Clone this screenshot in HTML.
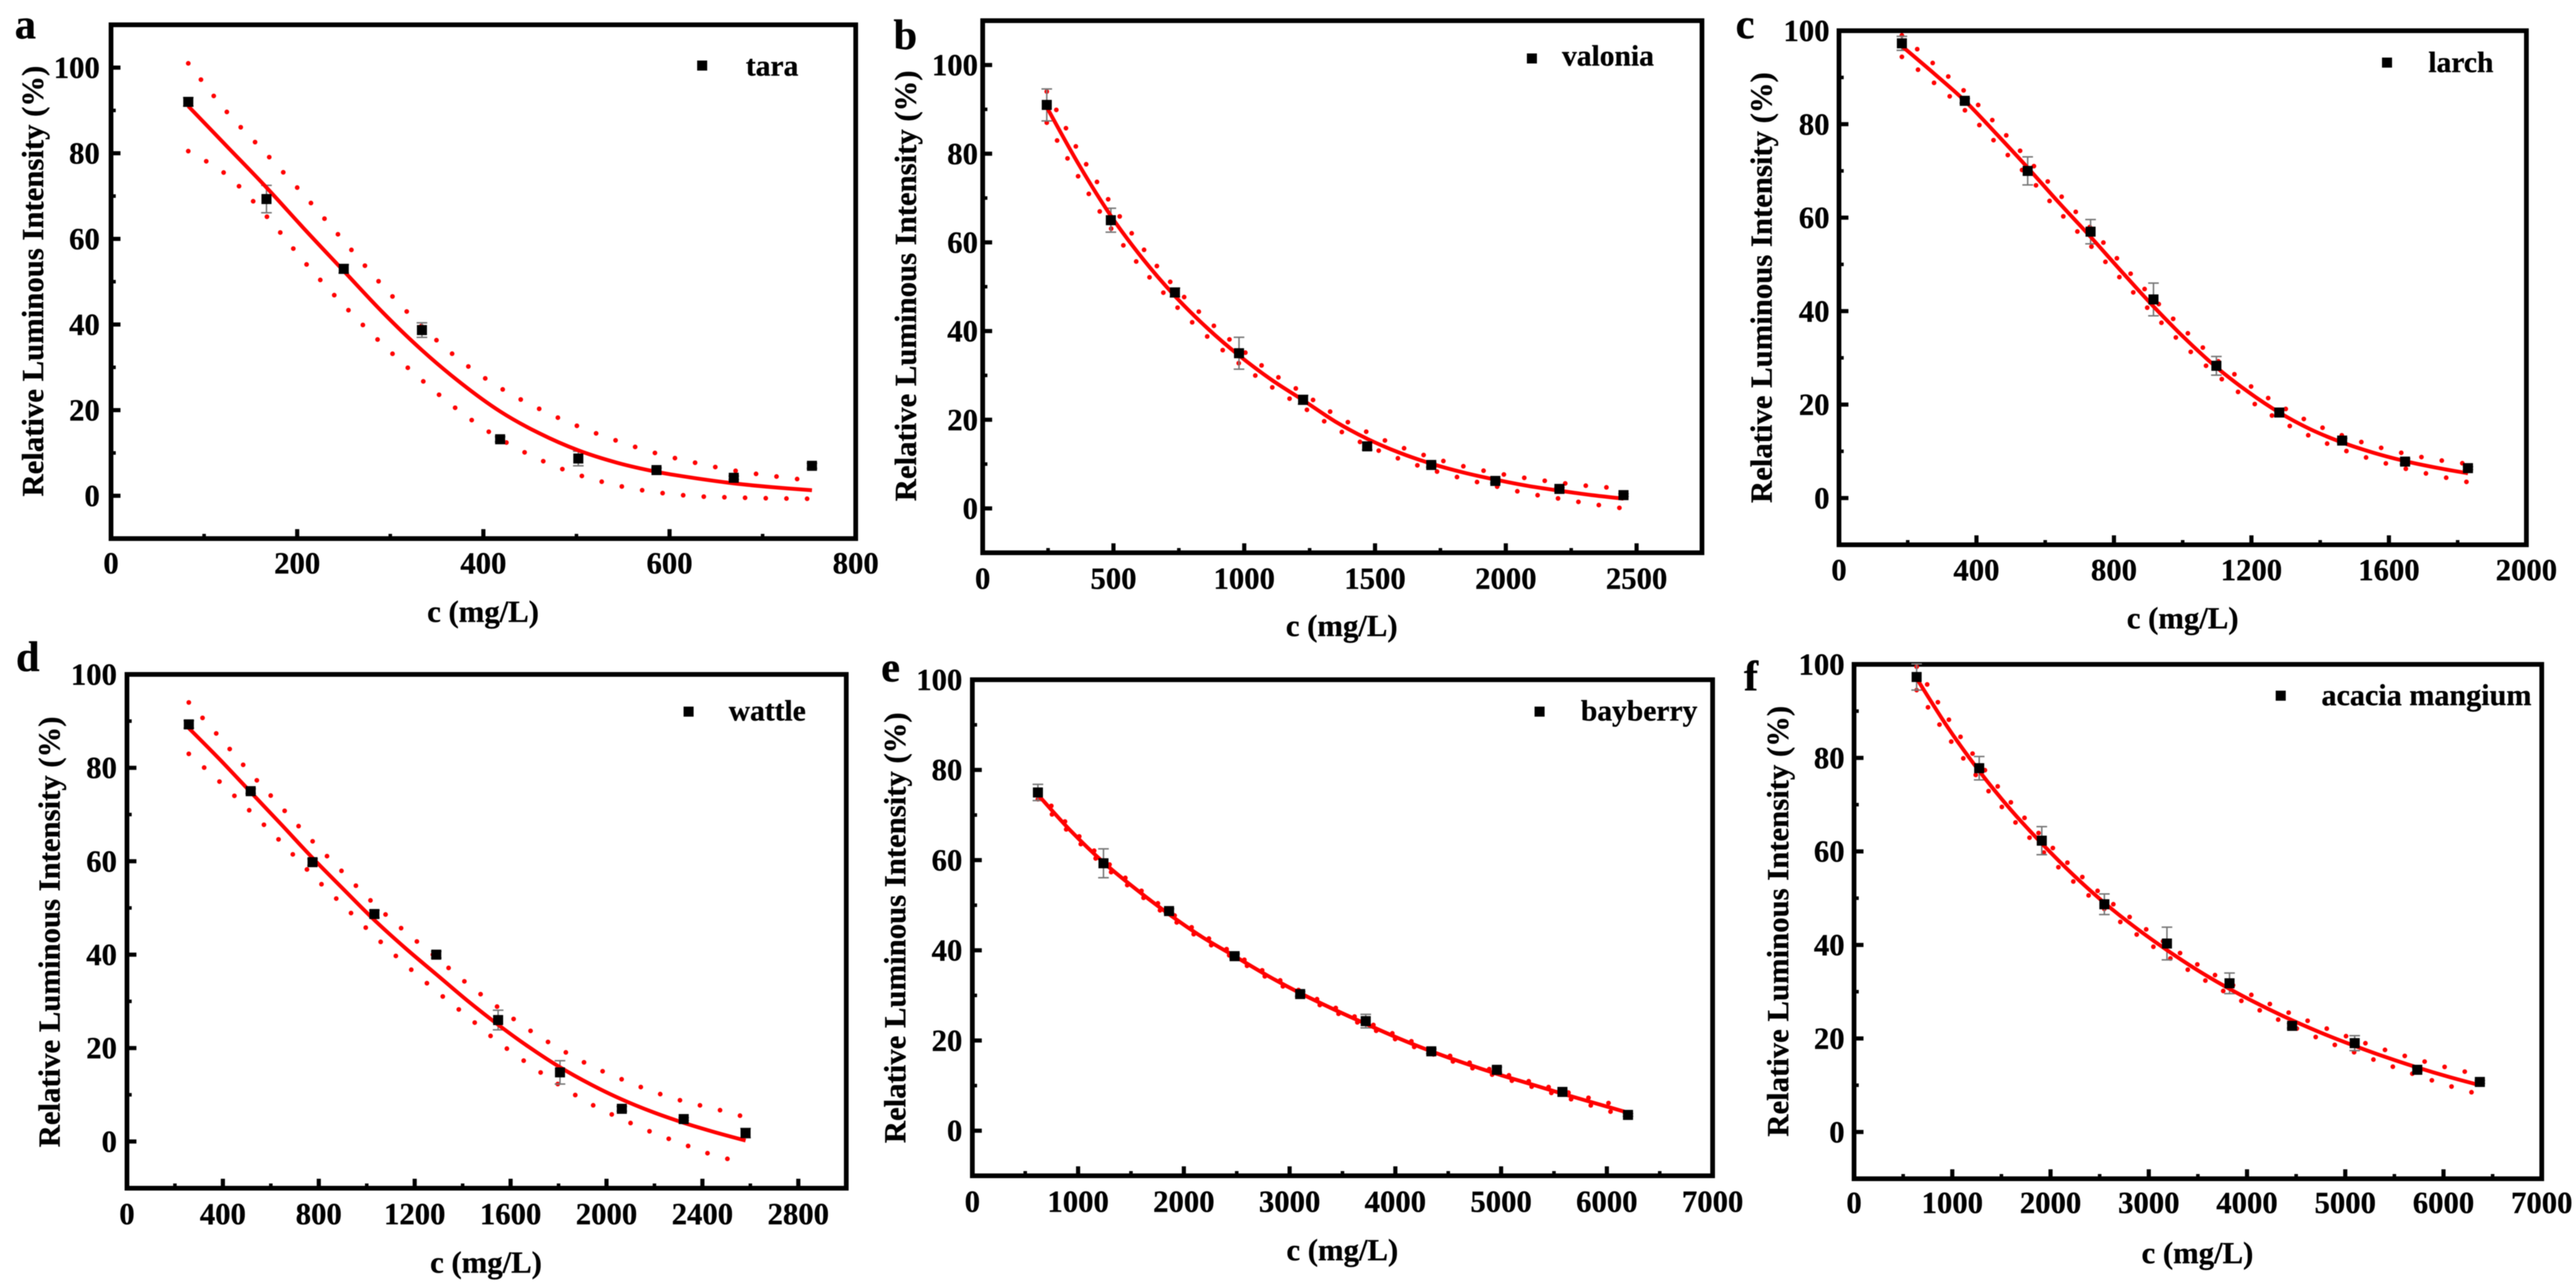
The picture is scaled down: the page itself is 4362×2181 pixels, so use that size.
<!DOCTYPE html>
<html lang="en">
<head>
<meta charset="utf-8">
<title>Relative luminous intensity versus concentration</title>
<style>
html,body{margin:0;padding:0;background:#fff;}
svg{display:block;filter:blur(0.7px);}
text{font-family:"Liberation Serif",serif;font-weight:bold;fill:#000;stroke:#000;stroke-width:0.5px;}
.tick{font-size:52px;}
.title{font-size:52px;}
.legend{font-size:50px;}
.letter{font-size:72px;}
</style>
</head>
<body>
<svg id="figure" xmlns="http://www.w3.org/2000/svg" width="4362" height="2181" viewBox="0 0 4362 2181">
  <rect x="0" y="0" width="4362" height="2181" fill="#fff"/>

  <g id="panel-a">
    <text class="letter" x="25" y="65">a</text>
    <text class="title" x="818" y="1053" text-anchor="middle">c (mg/L)</text>
    <text class="title" transform="translate(73 476) rotate(-90)" text-anchor="middle">Relative Luminous Intensity (%)</text>
    <rect x="1180.5" y="102.5" width="17" height="17" fill="#000"/>
    <text class="legend" x="1263" y="128">tara</text>
  </g>
  <g id="panel-b">
    <text class="letter" x="1513" y="83">b</text>
    <text class="title" x="2272" y="1077" text-anchor="middle">c (mg/L)</text>
    <text class="title" transform="translate(1551 484) rotate(-90)" text-anchor="middle">Relative Luminous Intensity (%)</text>
    <rect x="2585.5" y="90.5" width="17" height="17" fill="#000"/>
    <text class="legend" x="2645" y="111">valonia</text>
  </g>
  <g id="panel-c">
    <text class="letter" x="2939" y="65">c</text>
    <text class="title" x="3696" y="1064" text-anchor="middle">c (mg/L)</text>
    <text class="title" transform="translate(3000 487) rotate(-90)" text-anchor="middle">Relative Luminous Intensity (%)</text>
    <rect x="4033.5" y="97.5" width="17" height="17" fill="#000"/>
    <text class="legend" x="4112" y="122">larch</text>
  </g>
  <g id="panel-d">
    <text class="letter" x="27" y="1136">d</text>
    <text class="title" x="823" y="2155" text-anchor="middle">c (mg/L)</text>
    <text class="title" transform="translate(101 1578) rotate(-90)" text-anchor="middle">Relative Luminous Intensity (%)</text>
    <rect x="1157.5" y="1196.5" width="17" height="17" fill="#000"/>
    <text class="legend" x="1234" y="1220">wattle</text>
  </g>
  <g id="panel-e">
    <text class="letter" x="1492" y="1154">e</text>
    <text class="title" x="2273" y="2134" text-anchor="middle">c (mg/L)</text>
    <text class="title" transform="translate(1533 1571) rotate(-90)" text-anchor="middle">Relative Luminous Intensity (%)</text>
    <rect x="2598.5" y="1196.5" width="17" height="17" fill="#000"/>
    <text class="legend" x="2677" y="1220">bayberry</text>
  </g>
  <g id="panel-f">
    <text class="letter" x="2953" y="1169">f</text>
    <text class="title" x="3721" y="2139" text-anchor="middle">c (mg/L)</text>
    <text class="title" transform="translate(3028 1560) rotate(-90)" text-anchor="middle">Relative Luminous Intensity (%)</text>
    <rect x="3853.5" y="1169.5" width="17" height="17" fill="#000"/>
    <text class="legend" x="3931" y="1194" style="font-size:51px">acacia mangium</text>
  </g>
</svg>
<script>
// ---- shared y ticks ----
const yMajorTicks = [0, 20, 40, 60, 80, 100];
const yMinorTicks = [10, 30, 50, 70, 90];

// ---- panel a: tara ----
const aXTicks = [0, 200, 400, 600, 800];
const aXMinor = [100, 300, 500, 700];
const aConc = [83, 167, 250, 334, 418, 502, 586, 669, 753];
const aMeas = [92, 69.3, 53, 38.7, 13.2, 8.7, 6, 4.2, 7];
const aErr = [1, 3.2, 1, 1.7, 0.6, 1.7, 0.5, 0.4, 0.6];
const aFitX = [83, 125, 167, 209, 250, 292, 334, 376, 418, 460, 502, 544, 586, 628, 669, 711, 753];
const aFitY = [91, 81.5, 72, 62, 52.5, 42.8, 34, 26.3, 19.7, 14.6, 10.6, 7.7, 5.6, 4.1, 2.9, 2, 1.3];
const aUpper = [101, 89.5, 79.8, 69.8, 59.5, 49, 39.5, 31.5, 25.2, 20.3, 16.2, 12.8, 9.9, 7.7, 5.9, 4.6, 3.5];
const aLower = [80.5, 74.8, 65.3, 54.3, 44.5, 35.3, 27, 19.5, 13.3, 8.5, 4.9, 2.4, 0.8, -0.1, -0.4, -0.6, -0.7];

// ---- panel b: valonia ----
const bXTicks = [0, 500, 1000, 1500, 2000, 2500];
const bXMinor = [250, 750, 1250, 1750, 2250];
const bConc = [245, 490, 735, 980, 1225, 1470, 1715, 1960, 2205, 2450];
const bMeas = [91, 65, 48.7, 35, 24.5, 14, 9.8, 6.2, 4.4, 3];
const bErr = [3.6, 2.7, 1, 3.6, 1, 0.8, 0.5, 0.5, 0.3, 0.3];
const bFitX = [245, 368, 490, 612, 735, 858, 980, 1102, 1225, 1348, 1470, 1592, 1715, 1838, 1960, 2082, 2205, 2328, 2450];
const bFitY = [90.5, 77.5, 66, 56.3, 47.9, 40.7, 34.5, 29.1, 24.4, 19.6, 15.7, 12.6, 10.1, 8.1, 6.5, 5.1, 4, 3, 2.2];
const bUpper = [94, 80.4, 68.8, 58.7, 49.9, 42.6, 36.3, 30.7, 26, 21.1, 17.2, 14, 11.5, 9.5, 8, 6.8, 5.8, 5, 4.5];
const bLower = [87, 74.6, 63.2, 53.9, 45.9, 38.8, 32.7, 27.5, 22.8, 18.1, 14.2, 11.2, 8.7, 6.7, 5, 3.4, 2.2, 1, 0];

// ---- panel c: larch ----
const cXTicks = [0, 400, 800, 1200, 1600, 2000];
const cXMinor = [200, 600, 1000, 1400, 1800];
const cConc = [183, 366, 549, 732, 915, 1098, 1281, 1464, 1647, 1830];
const cMeas = [97.3, 85, 70, 57, 42.5, 28.3, 18.3, 12.3, 7.8, 6.4];
const cErr = [1.5, 0.5, 3, 2.6, 3.5, 2, 0.8, 0.5, 0.6, 0.3];
const cFitX = [183, 274, 366, 457, 549, 640, 732, 823, 915, 1006, 1098, 1189, 1281, 1372, 1464, 1555, 1647, 1738, 1830];
const cFitY = [96.7, 91, 85, 78, 70.7, 63.2, 55.9, 48.4, 41, 34.2, 28, 22.8, 18.3, 14.7, 11.9, 9.7, 7.9, 6.5, 5.3];
const cUpper = [99, 93, 87, 80, 72.5, 65.1, 57.8, 50.1, 42.7, 35.9, 29.6, 24.4, 19.9, 16.2, 13.4, 11.2, 9.5, 8.2, 7.3];
const cLower = [94.4, 89, 83, 76, 68.9, 61.3, 54, 46.7, 39.3, 32.5, 26.4, 21.2, 16.7, 13.2, 10.4, 8.2, 6.3, 4.8, 3.4];

// ---- panel d: wattle ----
const dXTicks = [0, 400, 800, 1200, 1600, 2000, 2400, 2800];
const dXMinor = [200, 600, 1000, 1400, 1800, 2200, 2600];
const dConc = [258, 516, 774, 1032, 1290, 1548, 1806, 2064, 2322, 2580];
const dMeas = [89.3, 75, 59.8, 48.7, 40, 26, 14.8, 7, 4.8, 1.8];
const dErr = [0.8, 0.5, 0.7, 0.8, 0.7, 2.1, 2.5, 0.5, 0.3, 1];
const dFitX = [258, 387, 516, 645, 774, 903, 1032, 1161, 1290, 1419, 1548, 1677, 1806, 1935, 2064, 2193, 2322, 2451, 2580];
const dFitY = [88.5, 81.8, 74.8, 67.8, 60.7, 54, 47.4, 41.4, 35.8, 30.2, 25, 20.2, 15.9, 12.2, 9, 6.3, 4, 2, 0.2];
const dUpper = [94, 86.5, 78.8, 71.5, 64.3, 57.5, 50.8, 44.9, 39.4, 33.8, 28.7, 23.9, 19.8, 16.2, 13.3, 10.7, 8.6, 7, 5.2];
const dLower = [83, 77, 70.6, 64, 57, 50.5, 44, 37.9, 32.2, 26.8, 21.3, 16.5, 12, 8, 4.8, 1.9, -0.6, -3, -4.6];

// ---- panel e: bayberry ----
const eXTicks = [0, 1000, 2000, 3000, 4000, 5000, 6000, 7000];
const eXMinor = [500, 1500, 2500, 3500, 4500, 5500, 6500];
const eConc = [620, 1240, 1860, 2480, 3100, 3720, 4340, 4960, 5580, 6200];
const eMeas = [75, 59.3, 48.7, 38.7, 30.3, 24.3, 17.6, 13.5, 8.6, 3.5];
const eErr = [1.8, 3.2, 0.5, 0.5, 0.5, 1.5, 0.5, 0.6, 0.3, 0.3];
const eFitX = [620, 930, 1240, 1550, 1860, 2170, 2480, 2790, 3100, 3410, 3720, 4030, 4340, 4650, 4960, 5270, 5580, 5890, 6200];
const eFitY = [74.5, 66.5, 59.5, 53.5, 48, 43, 38.7, 34.4, 30.5, 27, 23.7, 20.5, 17.6, 15, 12.6, 10.4, 8.2, 6.1, 4];
const eUpper = [75.5, 67.2, 60.2, 54.1, 48.6, 43.6, 39.2, 34.9, 31, 27.5, 24.2, 21, 18.1, 15.5, 13.1, 10.9, 8.8, 6.9, 5];
const eLower = [73.5, 65.8, 58.8, 52.9, 47.4, 42.4, 38.2, 33.9, 30, 26.5, 23.2, 20, 17.1, 14.5, 12.1, 9.9, 7.6, 5.3, 3];

// ---- panel f: acacia mangium ----
const fXTicks = [0, 1000, 2000, 3000, 4000, 5000, 6000, 7000];
const fXMinor = [500, 1500, 2500, 3500, 4500, 5500, 6500];
const fConc = [637, 1274, 1911, 2548, 3185, 3822, 4459, 5096, 5733, 6370];
const fMeas = [97.3, 77.8, 62.3, 48.7, 40.3, 31.8, 22.7, 19, 13.3, 10.7];
const fErr = [2.8, 2.5, 3, 2.2, 3.5, 2.2, 0.5, 1.6, 0.4, 0.3];
const fFitX = [637, 955, 1274, 1592, 1911, 2230, 2548, 2866, 3185, 3504, 3822, 4140, 4459, 4778, 5096, 5414, 5733, 6052, 6370];
const fFitY = [97, 86.5, 77.2, 69, 61.7, 55, 49, 43.7, 38.9, 34.5, 30.6, 27.1, 23.9, 21, 18.4, 16, 13.8, 11.8, 10];
const fUpper = [99.5, 88.5, 79, 70.6, 63.2, 56.4, 50.3, 45, 40.2, 35.7, 31.8, 28.3, 25.2, 22.4, 19.8, 17.5, 15.5, 13.7, 12.2];
const fLower = [94.5, 84.5, 75.4, 67.4, 60.2, 53.6, 47.7, 42.4, 37.6, 33.3, 29.4, 25.9, 22.6, 19.6, 17, 14.5, 12.1, 9.9, 8];

// ---- panel layout and wiring ----
const panels = [
  {id:'a', box:[188,1449,42,912], xMax:800, yMin:-10, yMax:110, gap:19, labelDrop:59, xTicks:aXTicks, xMinor:aXMinor, conc:aConc, meas:aMeas, err:aErr, fitX:aFitX, fitY:aFitY, upper:aUpper, lower:aLower},
  {id:'b', box:[1664,2882,35,936], xMax:2750, yMin:-10, yMax:110, gap:8, labelDrop:61, xTicks:bXTicks, xMinor:bXMinor, conc:bConc, meas:bMeas, err:bErr, fitX:bFitX, fitY:bFitY, upper:bUpper, lower:bLower},
  {id:'c', box:[3114,4278,52,922.5], xMax:2000, yMin:-10, yMax:100, gap:16, labelDrop:60, xTicks:cXTicks, xMinor:cXMinor, conc:cConc, meas:cMeas, err:cErr, fitX:cFitX, fitY:cFitY, upper:cUpper, lower:cLower},
  {id:'d', box:[215,1433,1142,2012], xMax:3000, yMin:-10, yMax:100, gap:17, labelDrop:61, xTicks:dXTicks, xMinor:dXMinor, conc:dConc, meas:dMeas, err:dErr, fitX:dFitX, fitY:dFitY, upper:dUpper, lower:dLower},
  {id:'e', box:[1646.5,2900,1151,1991], xMax:7000, yMin:-10, yMax:100, gap:17, labelDrop:61, xTicks:eXTicks, xMinor:eXMinor, conc:eConc, meas:eMeas, err:eErr, fitX:eFitX, fitY:eFitY, upper:eUpper, lower:eLower},
  {id:'f', box:[3139.5,4304,1125,1996], xMax:7000, yMin:-10, yMax:100, gap:16, labelDrop:58, xTicks:fXTicks, xMinor:fXMinor, conc:fConc, meas:fMeas, err:fErr, fitX:fFitX, fitY:fFitY, upper:fUpper, lower:fLower}
];

const NS = 'http://www.w3.org/2000/svg';
function mk(tag, props, parent) {
  const el = document.createElementNS(NS, tag);
  for (const k in props) el.setAttribute(k, props[k]);
  parent.appendChild(el);
  return el;
}
// Smooth path through the knots, using axis functions for every point.
function splinePath(xs, ys, sx, sy) {
  const pts = xs.map((x, i) => [sx(x), sy(ys[i])]);
  let d = 'M' + pts[0][0].toFixed(1) + ' ' + pts[0][1].toFixed(1);
  for (let i = 0; i < pts.length - 1; i++) {
    const p0 = pts[Math.max(i - 1, 0)], p1 = pts[i], p2 = pts[i + 1], p3 = pts[Math.min(i + 2, pts.length - 1)];
    const c1x = p1[0] + (p2[0] - p0[0]) / 6, c1y = p1[1] + (p2[1] - p0[1]) / 6;
    const c2x = p2[0] - (p3[0] - p1[0]) / 6, c2y = p2[1] - (p3[1] - p1[1]) / 6;
    d += 'C' + [c1x, c1y, c2x, c2y, p2[0], p2[1]].map(v => v.toFixed(1)).join(' ');
  }
  return d;
}

panels.forEach(function (p) {
  const g = document.getElementById('panel-' + p.id);
  const L = p.box[0], R = p.box[1], T = p.box[2], B = p.box[3];
  const sx = v => L + (v / p.xMax) * (R - L);
  const sy = v => B - ((v - p.yMin) / (p.yMax - p.yMin)) * (B - T);

  // y ticks and labels
  yMajorTicks.forEach(function (v) {
    const t = mk('line', {x1:L, x2:L + 16, y1:sy(v), y2:sy(v), stroke:'#000', 'stroke-width':7}, g);
    
    
    const lab = mk('text', {class:'tick', x:L - p.gap, y:sy(v) + 17.5, 'text-anchor':'end'}, g);
    lab.textContent = String(v);
    
    
  });
  yMinorTicks.forEach(function (v) {
    const t = mk('line', {x1:L, x2:L + 8, y1:sy(v), y2:sy(v), stroke:'#000', 'stroke-width':6}, g);
    
    
  });

  // x ticks and labels
  p.xTicks.forEach(function (v) {
    const t = mk('line', {x1:sx(v), x2:sx(v), y1:B, y2:B - 16, stroke:'#000', 'stroke-width':7}, g);
    
    
    const lab = mk('text', {class:'tick', x:sx(v), y:B + p.labelDrop, 'text-anchor':'middle'}, g);
    lab.textContent = String(v);
    
    
  });
  p.xMinor.forEach(function (v) {
    const t = mk('line', {x1:sx(v), x2:sx(v), y1:B, y2:B - 8, stroke:'#000', 'stroke-width':6}, g);
    
    
  });

  // plot frame
  const frame = mk('rect', {x:L, y:T, width:R - L, height:B - T, fill:'none', stroke:'#000', 'stroke-width':8}, g);
  
  

  // confidence bands (dotted)
  const up = mk('path', {d:splinePath(p.fitX, p.upper, sx, sy), fill:'none', stroke:'#f00', 'stroke-width':8, 'stroke-linecap':'round', 'stroke-dasharray':'0 35'}, g);
  
  
  const low = mk('path', {d:splinePath(p.fitX, p.lower, sx, sy), fill:'none', stroke:'#f00', 'stroke-width':8, 'stroke-linecap':'round', 'stroke-dasharray':'0 35'}, g);
  
  

  // error bars
  p.conc.forEach(function (x, i) {
    const hi = sy(p.meas[i] + p.err[i]), lo = sy(p.meas[i] - p.err[i]), cx = sx(x);
    const eb = mk('path', {d:'M' + (cx - 9) + ' ' + hi + 'H' + (cx + 9) + 'M' + cx + ' ' + hi + 'V' + lo + 'M' + (cx - 9) + ' ' + lo + 'H' + (cx + 9), fill:'none', stroke:'#777', 'stroke-width':2.5}, g);
    
    
  });

  // fit line
  const fit = mk('path', {d:splinePath(p.fitX, p.fitY, sx, sy), fill:'none', stroke:'#f00', 'stroke-width':6.5, 'stroke-linejoin':'round'}, g);
  
  

  // measured points
  p.conc.forEach(function (x, i) {
    const m = mk('rect', {x:sx(x) - 8.5, y:sy(p.meas[i]) - 8.5, width:17, height:17, fill:'#000'}, g);
    
    
  });
});
</script>
</body>
</html>
